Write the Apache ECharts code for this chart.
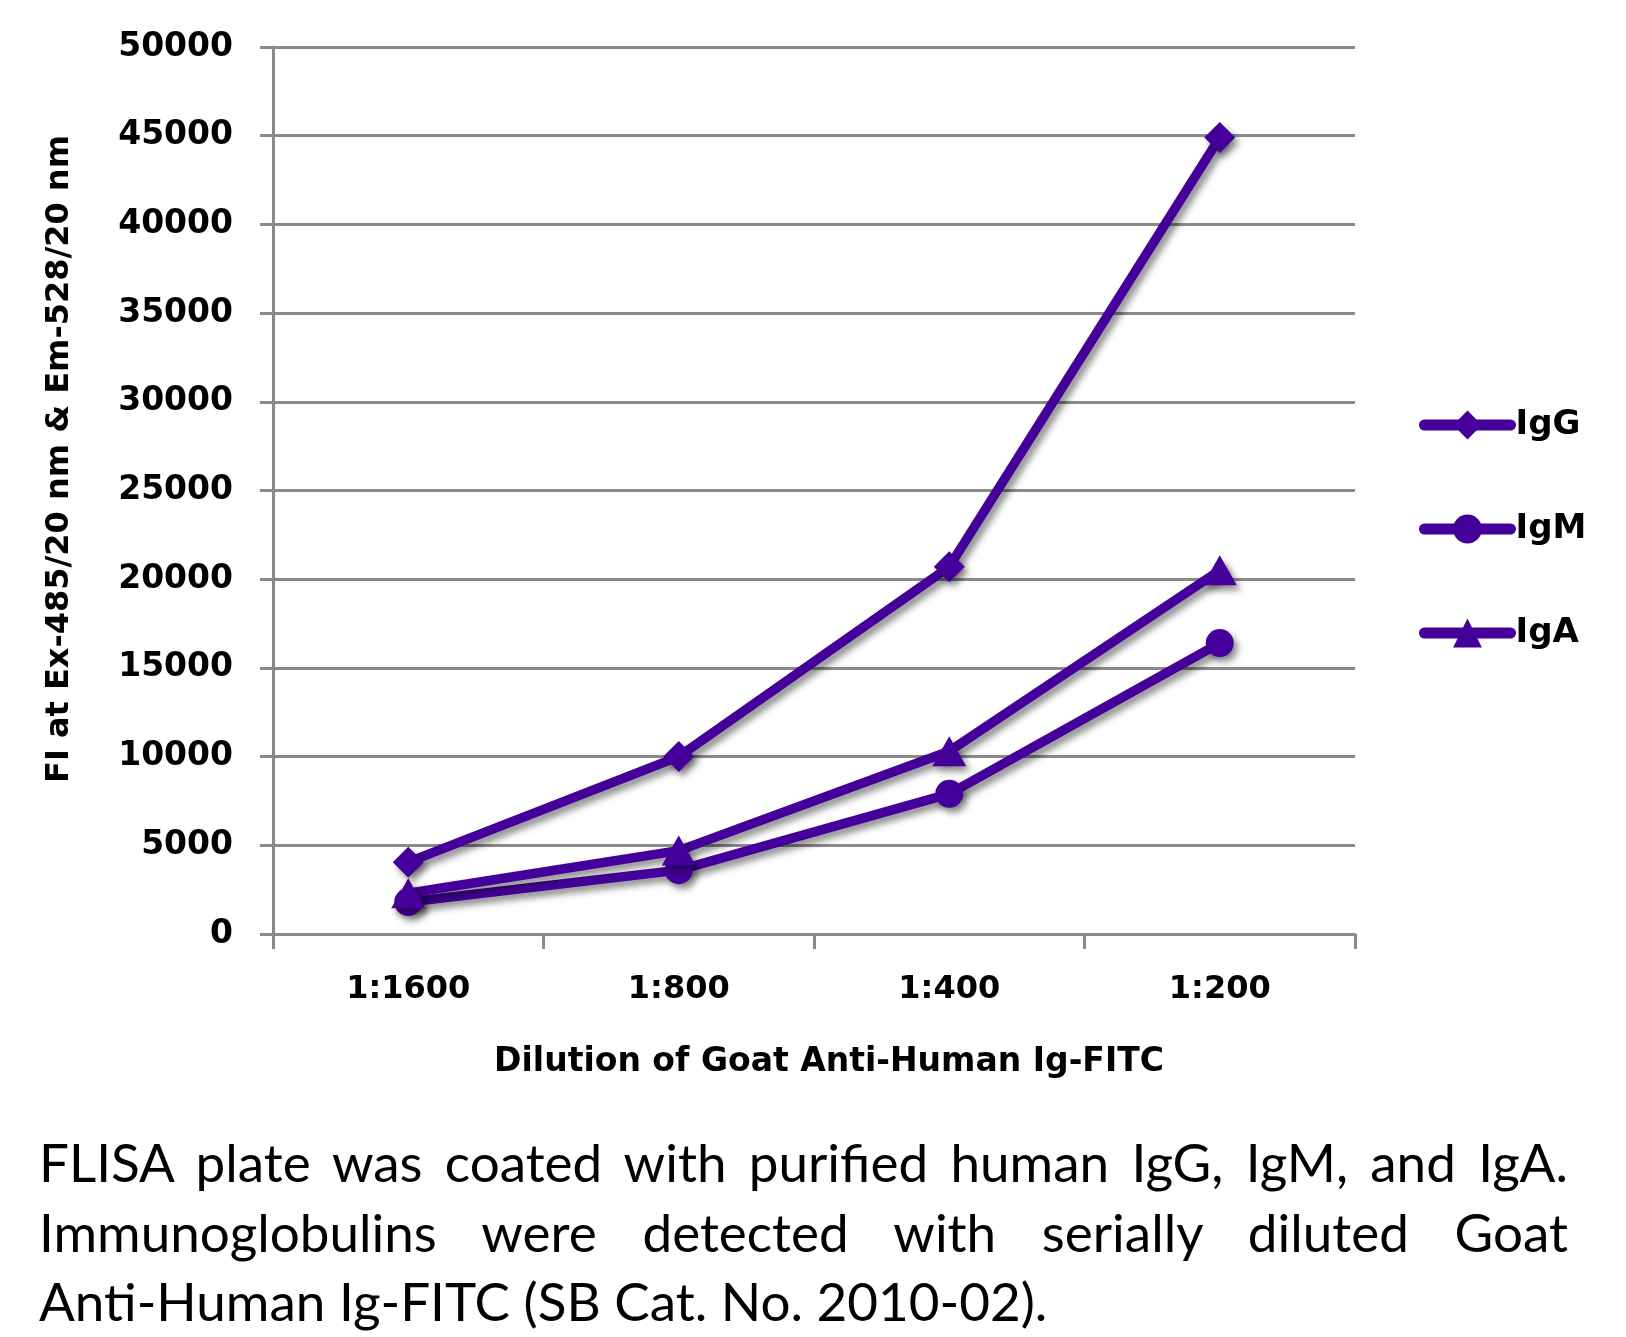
<!DOCTYPE html>
<html>
<head>
<meta charset="utf-8">
<script src="https://cdn.jsdelivr.net/npm/echarts@6/dist/echarts.min.js"></script>
<style>
  html, body { margin: 0; padding: 0; background: #fff; }
  #wrap { position: relative; width: 1626px; height: 1337px; overflow: hidden; }
  #chart { position: absolute; left: 0; top: 0; width: 1626px; height: 1337px; }
  .cap { position: absolute; left: 39px; width: 1529px; color: #000;
         font-family: 'Lato', 'Open Sans', sans-serif; line-height: 70px;
         text-align: justify; text-align-last: justify; }
  .cap.last { text-align: left; text-align-last: left; }
</style>
</head>
<body>
<div id="wrap">
  <div id="chart"></div>
  <div class="cap" id="cap1">FLISA plate was coated with purified human IgG, IgM, and IgA.</div>
  <div class="cap" id="cap2">Immunoglobulins were detected with serially diluted Goat</div>
  <div class="cap last" id="cap3">Anti-Human Ig-FITC (SB Cat. No. 2010-02).</div>
</div>
<script>
// ---- data ----
const categories = ['1:1600', '1:800', '1:400', '1:200'];
const igG = [4050, 10000, 20700, 44900];
const igM = [1800, 3600, 7900, 16400];
const igA = [2300, 4700, 10300, 20500];
const yTicks = { min: 0, max: 50000, interval: 5000 };
const xTitle = 'Dilution of Goat Anti-Human Ig-FITC';
const yTitle = 'FI at Ex-485/20 nm & Em-528/20 nm';

// ---- caption sizing ----
(function () {
  const c = document.createElement('canvas').getContext('2d');
  const fam = "Lato, 'Open Sans', sans-serif";
  c.font = '100px ' + fam;
  const w = c.measureText(document.getElementById('cap1').textContent).width;
  const size = Math.min(54, Math.floor(1522 / w * 100 * 0.96));
  const baselines = [1183, 1253, 1322];
  ['cap1', 'cap2', 'cap3'].forEach((id, i) => {
    const el = document.getElementById(id);
    el.style.fontSize = size + 'px';
    const top = baselines[i] - ((70 - 1.2 * size) / 2 + 0.987 * size);
    el.style.top = top + 'px';
  });
})();

const COLOR = '#45009b';
const FONT = "'DejaVu Sans', sans-serif";
const shadow = { shadowColor: 'rgba(0,0,0,0.45)', shadowBlur: 7, shadowOffsetX: 4, shadowOffsetY: 5 };

function mkSeries(name, data, symbol, size) {
  return {
    name: name, type: 'line', data: data, symbol: symbol, symbolSize: size,
    showSymbol: true, animation: false,
    lineStyle: Object.assign({ color: COLOR, width: 9.5, cap: 'round', join: 'round' }, shadow),
    itemStyle: Object.assign({ color: COLOR, borderWidth: 0 }, shadow)
  };
}

const chart = echarts.init(document.getElementById('chart'), null, { renderer: 'canvas' });
chart.setOption({
  backgroundColor: 'transparent',
  animation: false,
  grid: { left: 273, right: 271, top: 47, bottom: 403, containLabel: false },
  xAxis: {
    type: 'category', data: categories, boundaryGap: true,
    axisLine: { show: true, lineStyle: { color: '#8a8a8a', width: 3 } },
    axisTick: { show: true, length: 15, alignWithLabel: false, lineStyle: { color: '#8a8a8a', width: 3 } },
    axisLabel: { margin: 40, color: '#000', fontFamily: FONT, fontWeight: 'bold', fontSize: 32 },
    splitLine: { show: false }
  },
  yAxis: {
    type: 'value', min: yTicks.min, max: yTicks.max, interval: yTicks.interval,
    axisLine: { show: true, lineStyle: { color: '#8a8a8a', width: 3 } },
    axisTick: { show: true, length: 13, lineStyle: { color: '#8a8a8a', width: 3 } },
    axisLabel: { margin: 40, color: '#000', fontFamily: FONT, fontWeight: 'bold', fontSize: 33,
                 formatter: function (v) { return String(v); } },
    splitLine: { show: true, lineStyle: { color: '#8a8a8a', width: 3 } }
  },
  legend: {
    orient: 'vertical', left: 1419, top: 408, padding: 0,
    itemWidth: 86, itemHeight: 36, itemGap: 70,
    data: ['IgG', 'IgM', 'IgA'],
    textStyle: { color: '#000', fontFamily: FONT, fontWeight: 'bold', fontSize: 34, padding: [0, 0, 0, 0] },
    lineStyle: { width: 11, cap: 'round', shadowBlur: 0, shadowColor: 'transparent', shadowOffsetX: 0, shadowOffsetY: 0 },
    itemStyle: { shadowBlur: 0, shadowColor: 'transparent', shadowOffsetX: 0, shadowOffsetY: 0 }
  },
  series: [
    mkSeries('IgM', igM, 'circle', 28),
    mkSeries('IgA', igA, 'triangle', [34, 30]),
    mkSeries('IgG', igG, 'diamond', [31, 31])
  ],
  graphic: [
    { type: 'text', x: 829, y: 1062, style: {
        text: xTitle, fill: '#000', font: "bold 33px 'DejaVu Sans', sans-serif",
        textAlign: 'center', textVerticalAlign: 'middle' } },
    { type: 'text', x: 60, y: 459, rotation: Math.PI / 2, style: {
        text: yTitle, fill: '#000', font: "bold 32px 'DejaVu Sans', sans-serif",
        textAlign: 'center', textVerticalAlign: 'middle' } }
  ]
});
</script>
</body>
</html>
